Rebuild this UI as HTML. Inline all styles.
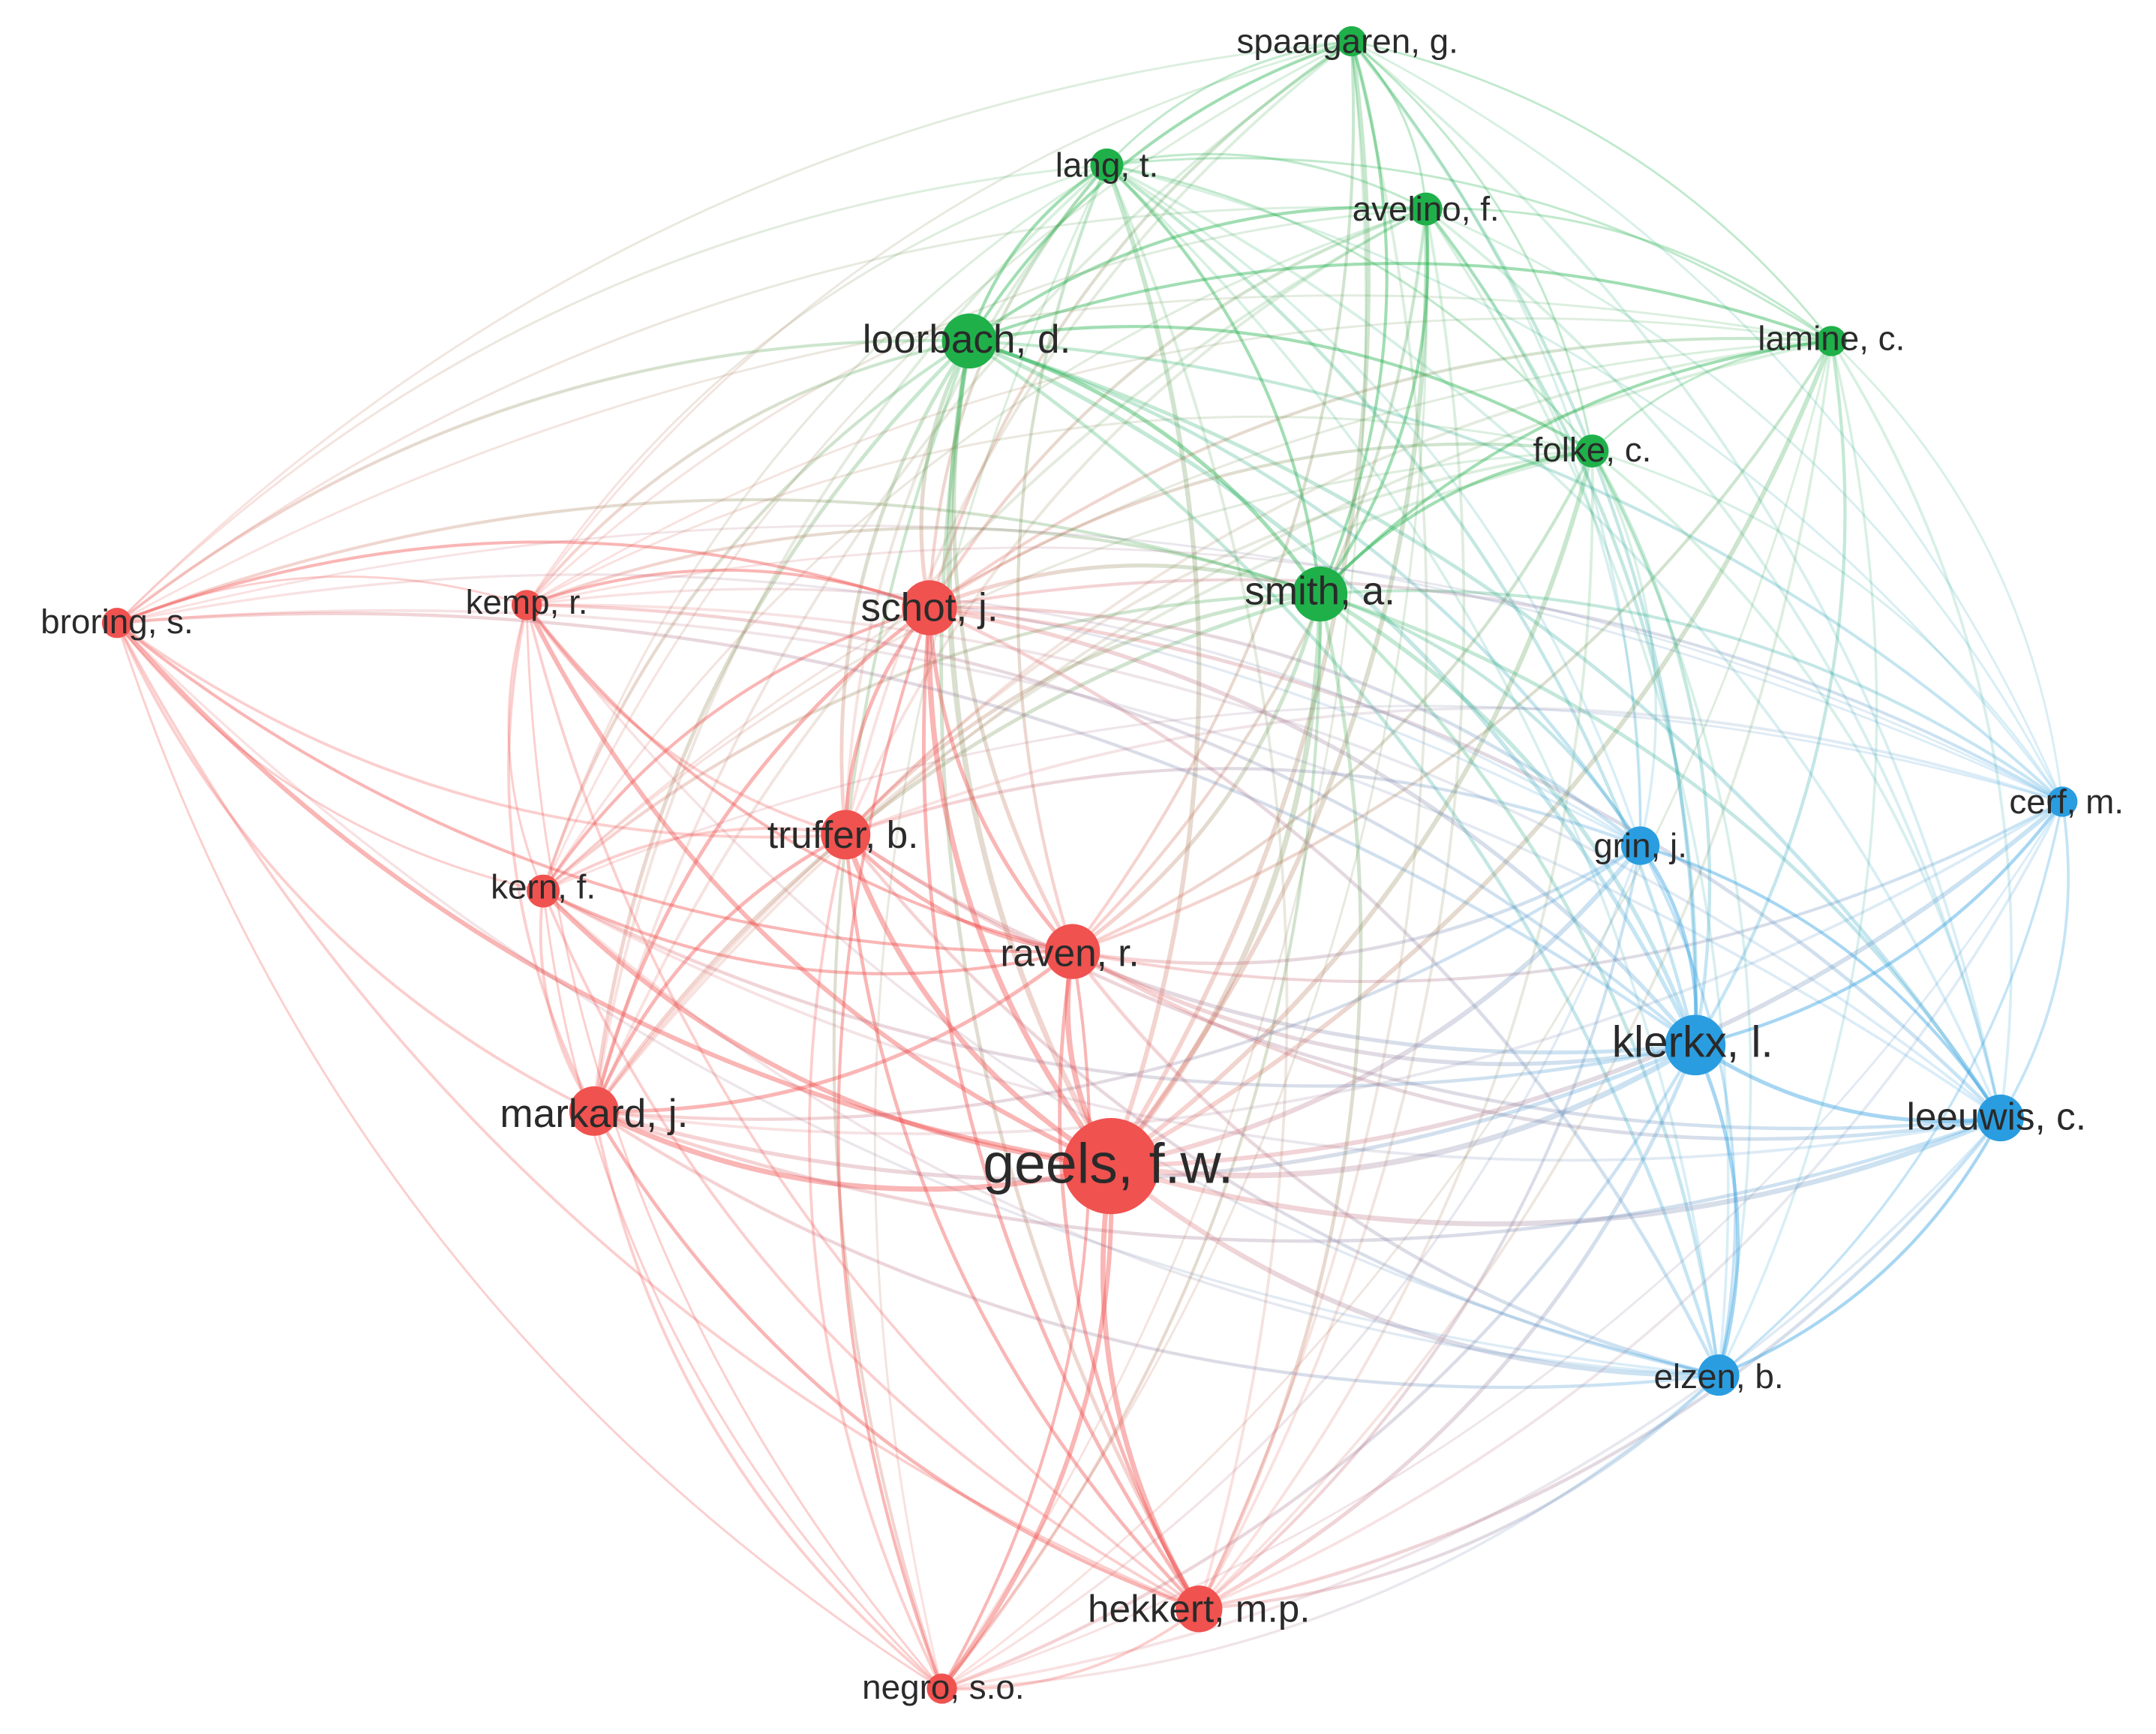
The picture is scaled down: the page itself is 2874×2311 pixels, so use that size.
<!DOCTYPE html>
<html><head><meta charset="utf-8"><style>
html,body{margin:0;padding:0;background:#fff;}
svg{display:block;}
text{font-family:"Liberation Sans",sans-serif;fill:#2a2a2a;text-anchor:middle;dominant-baseline:central;}
</style></head><body>
<svg id="s" width="2874" height="2311" viewBox="0 0 1568 1261" xmlns="http://www.w3.org/2000/svg">
<defs id="defs"></defs>
<g id="edges"></g>
<g id="nodes"></g>
<g id="labels">
<text x="980" y="30" font-size="25">spaargaren, g.</text>
<text x="805" y="120" font-size="25">lang, t.</text>
<text x="1037" y="152" font-size="25">avelino, f.</text>
<text x="703" y="247" font-size="29">loorbach, d.</text>
<text x="1332" y="246" font-size="25">lamine, c.</text>
<text x="1158" y="327" font-size="25">folke, c.</text>
<text x="960" y="430" font-size="29">smith, a.</text>
<text x="676" y="442" font-size="29">schot, j.</text>
<text x="383" y="438" font-size="25">kemp, r.</text>
<text x="85" y="452" font-size="25">broring, s.</text>
<text x="613" y="607" font-size="28">truffer, b.</text>
<text x="395" y="645" font-size="25">kern, f.</text>
<text x="778" y="693" font-size="28">raven, r.</text>
<text x="1193" y="615" font-size="25">grin, j.</text>
<text x="1503" y="583" font-size="25">cerf, m.</text>
<text x="1231" y="758" font-size="32">klerkx, l.</text>
<text x="1452" y="812" font-size="28">leeuwis, c.</text>
<text x="432" y="810" font-size="29">markard, j.</text>
<text x="806" y="846" font-size="41">geels, f.w.</text>
<text x="1250" y="1001" font-size="25">elzen, b.</text>
<text x="872" y="1170" font-size="28">hekkert, m.p.</text>
<text x="686" y="1227" font-size="25">negro, s.o.</text>
</g>
</svg>
<script>
var R='#f0524f',G='#1fb04a',B='#2a9de0';
var N=[
[983,30,11,G],[805,120,12,G],[1037,152,12,G],[705,248,20,G],[1332,248,11,G],[1158,328,12,G],[960,432,20,G],
[676,442,20,R],[383,440,11,R],[85,453,11,R],[615,607,18,R],[395,648,12,R],[780,692,20,R],[432,808,18,R],[808,848,35,R],[872,1170,17,R],[685,1228,11,R],
[1193,615,14,B],[1500,583,11,B],[1233,760,22,B],[1455,813,17,B],[1250,1000,15,B]];
var e=document.getElementById('edges'),n=document.getElementById('nodes'),d=document.getElementById('defs');
var cx=784,cy=640,h='',g='',c=0;
function big(i){return N[i][2]>16;}
for(var i=0;i<N.length;i++)for(var j=i+1;j<N.length;j++){
 var a=N[i],b=N[j];
 var seed=(i*31+j*17)%7; if(seed==0 && !(big(i)||big(j)))continue;
 var mx=(a[0]+b[0])/2,my=(a[1]+b[1])/2;
 var dx=b[0]-a[0],dy=b[1]-a[1],L=Math.sqrt(dx*dx+dy*dy);
 var px=-dy/L,py=dx/L;
 var side=((mx-cx)*px+(my-cy)*py)>0?1:-1;
 var k=L*0.18*side;
 var qx=mx+px*k,qy=my+py*k;
 var col;
 if(a[3]==b[3]) col=a[3];
 else { c++; g+='<linearGradient id="g'+c+'" gradientUnits="userSpaceOnUse" x1="'+a[0]+'" y1="'+a[1]+'" x2="'+b[0]+'" y2="'+b[1]+'"><stop offset="0" stop-color="'+a[3]+'"/><stop offset="1" stop-color="'+b[3]+'"/></linearGradient>'; col='url(#g'+c+')'; }
 var w=(a[2]+b[2])/14;
 var op=(a[2]+b[2])>30?0.42:0.28;
 if(a[3]!=b[3])op*=0.65;
 h+='<path d="M'+a[0]+' '+a[1]+' Q'+qx.toFixed(1)+' '+qy.toFixed(1)+' '+b[0]+' '+b[1]+'" fill="none" stroke="'+col+'" stroke-width="'+w.toFixed(2)+'" stroke-opacity="'+op.toFixed(2)+'"/>';
}
d.innerHTML=g;
e.innerHTML=h;
var m='';
N.forEach(function(p){m+='<circle cx="'+p[0]+'" cy="'+p[1]+'" r="'+p[2]+'" fill="'+p[3]+'"/>';});
n.innerHTML=m;
</script>
</body></html>
